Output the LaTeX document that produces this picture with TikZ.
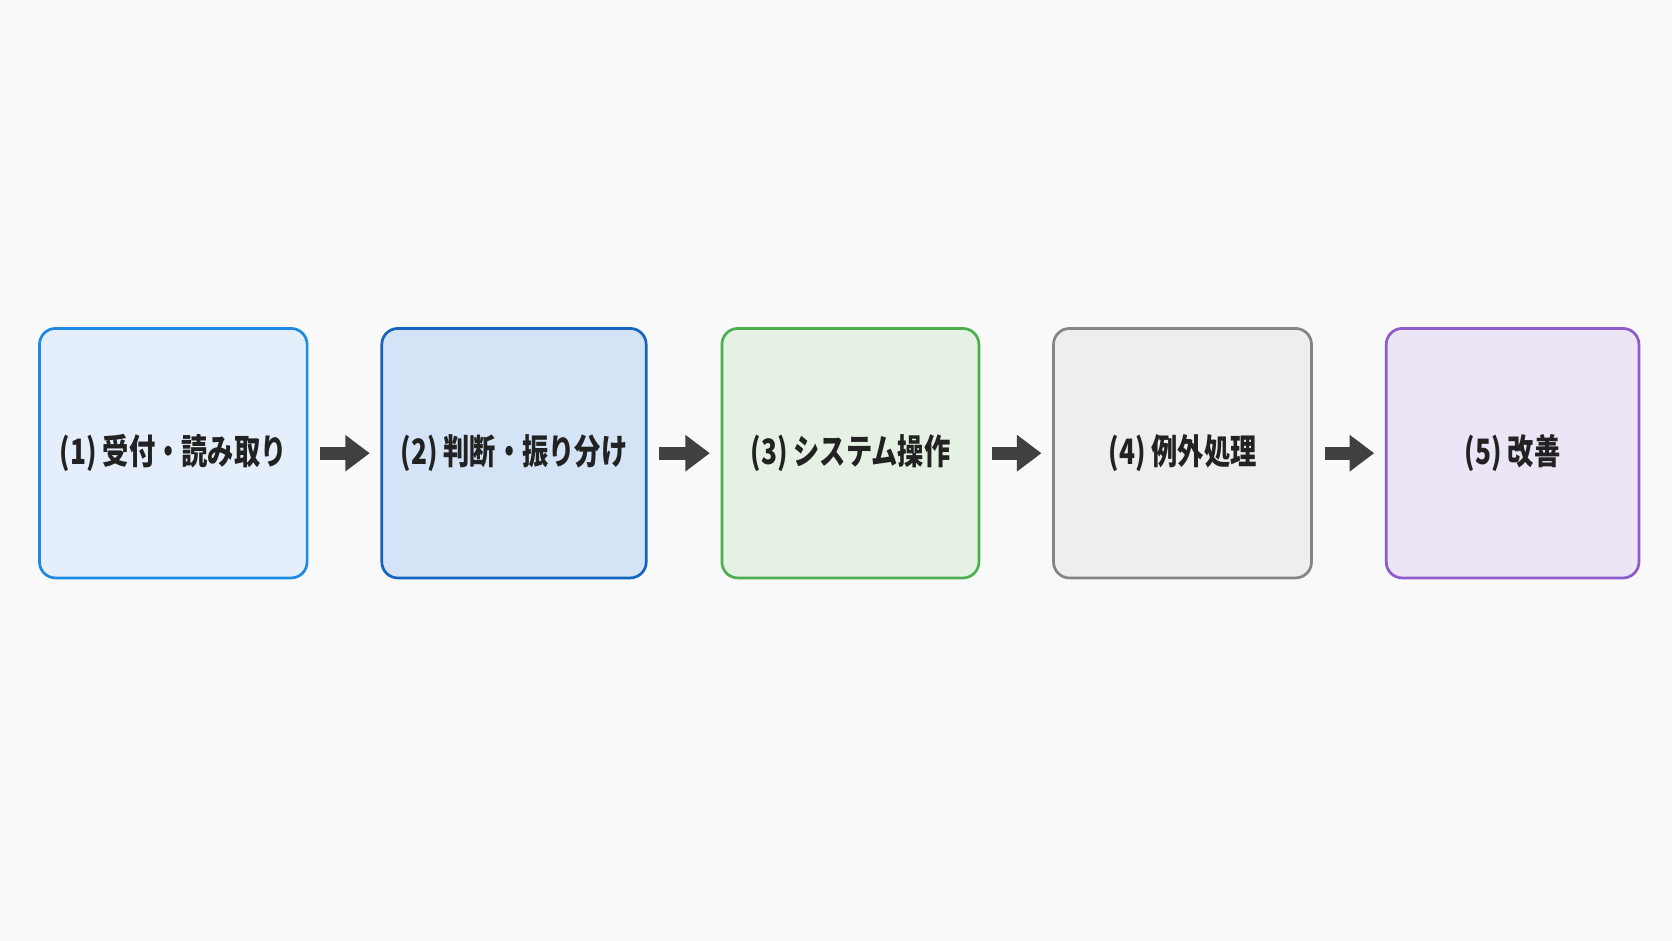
\documentclass[tikz,border=0pt]{standalone}
\usepackage{fontspec}
\usepackage{xcolor}
\usepackage{tikz}
\usetikzlibrary{arrows.meta}
\newfontfamily\jp[FakeStretch=0.75]{Noto Sans CJK JP}
\definecolor{bg}{HTML}{F9F9F9}
\definecolor{ink}{HTML}{222222}
\definecolor{arr}{HTML}{404040}
\definecolor{bluA}{HTML}{1E88E5}
\definecolor{bluAf}{HTML}{E5EFFB}
\definecolor{bluB}{HTML}{1565C0}
\definecolor{bluBf}{HTML}{D4E3F6}
\definecolor{grn}{HTML}{4CAF50}
\definecolor{grnf}{HTML}{E5F1E3}
\definecolor{gry}{HTML}{858585}
\definecolor{gryf}{HTML}{EEEEEE}
\definecolor{prp}{HTML}{8E5CC8}
\definecolor{prpf}{HTML}{EBE5F6}
\tikzset{
  stage/.style={rounded corners=16pt, line width=2.7pt, minimum height=249.5pt,
    inner sep=0pt, text=ink, font=\jp\bfseries\fontsize{35}{38}\selectfont},
  flow/.style={draw=arr, line width=12.8pt, -{Triangle[length=24.5pt,width=35pt]},
    shorten <=11.7pt, shorten >=10.7pt},
}

\begin{document}
\begin{tikzpicture}[x=1pt,y=-1pt]
  \fill[bg] (0,0) rectangle (1672,941);
  \useasboundingbox (0,0) rectangle (1672,941);
  \foreach \n/\x/\w/\c/\f/\t in {
      b1/173.3/267.6/bluA/bluAf/{(1) 受付・読み取り},
      b2/514/264.4/bluB/bluBf/{(2) 判断・振り分け},
      b3/850.4/257/grn/grnf/{(3) システム操作},
      b4/1182.5/258/gry/gryf/{(4) 例外処理},
      b5/1512.6/252.7/prp/prpf/{(5) 改善}}
    \node[stage, draw=\c, fill=\f, minimum width=\w pt] (\n) at (\x,453.2) {\t};
  \foreach \a/\b in {b1/b2,b2/b3,b3/b4,b4/b5}
    \draw[flow] (\a.east) -- (\b.west);
\end{tikzpicture}
\end{document}
